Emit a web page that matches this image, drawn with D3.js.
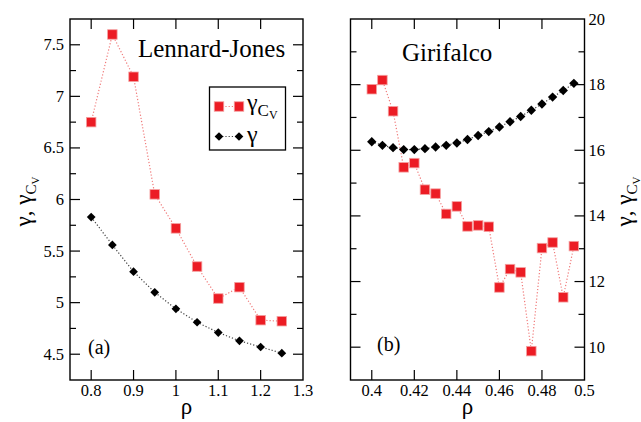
<!DOCTYPE html>
<html><head><meta charset="utf-8">
<script src="https://cdn.jsdelivr.net/npm/d3@7"></script>
<style>
body{margin:0;background:#fff;}
</style></head>
<body><svg id="c" width="641" height="422" font-family="'Liberation Serif', 'Times New Roman', Times, 'DejaVu Serif', serif"></svg>
<script>
// ---- data ----
const ljRho = [0.80,0.85,0.90,0.95,1.00,1.05,1.10,1.15,1.20,1.25];
const ljGammaCv = [6.75,7.60,7.19,6.05,5.72,5.35,5.04,5.15,4.83,4.82];
const ljGamma = [5.83,5.56,5.30,5.10,4.94,4.81,4.71,4.63,4.57,4.51];

const gfRho = [0.400,0.405,0.410,0.415,0.420,0.425,0.430,0.435,0.440,0.445,0.450,0.455,0.460,0.465,0.470,0.475,0.480,0.485,0.490,0.495];
const gfGammaCv = [17.86,18.14,17.19,15.48,15.61,14.80,14.68,14.06,14.29,13.68,13.71,13.67,11.82,12.38,12.28,9.88,13.02,13.19,11.52,13.08];
const gfGamma = [16.26,16.15,16.08,16.02,16.02,16.05,16.10,16.15,16.22,16.33,16.45,16.57,16.71,16.87,17.03,17.22,17.41,17.62,17.82,18.04];

const ljXTicks = [0.8,0.9,1.0,1.1,1.2,1.3];
const ljXTickLabels = ["0.8","0.9","1","1.1","1.2","1.3"];
const ljYTicks = [4.5,5,5.5,6,6.5,7,7.5];
const ljYTickLabels = ["4.5","5","5.5","6","6.5","7","7.5"];
const ljYMinor = [4.25,4.75,5.25,5.75,6.25,6.75,7.25,7.75];

const gfXTicks = [0.40,0.42,0.44,0.46,0.48,0.50];
const gfXTickLabels = ["0.4","0.42","0.44","0.46","0.48","0.5"];
const gfYTicks = [10,12,14,16,18,20];
const gfYTickLabels = ["10","12","14","16","18","20"];
const gfYMinor = [9,11,13,15,17,19];

// ---- drawing ----
const FONT = "'Liberation Serif', 'Times New Roman', Times, 'DejaVu Serif', serif";
const svg = d3.select("#c");
const RED = "#ec1c24", RED_LINE = "#f07a7a";
const TOP = 19, BOT = 380;

function txt(sel){ return sel.append("text").attr("font-family",FONT).attr("fill","#000"); }

function panel(opt){
  const x = d3.scaleLinear().domain(opt.xd).range([opt.x0, opt.x1]);
  const y = d3.scaleLinear().domain(opt.yd).range([BOT, TOP]);
  const g = svg.append("g");
  const maj = 10, mnr = 6;
  const xin = opt.xt.filter(v=>x(v)>opt.x0+1 && x(v)<opt.x1-1);
  [[BOT,-1],[TOP,1]].forEach(([yy,dir])=>{
    g.selectAll(null).data(xin).join("line")
      .attr("x1",d=>x(d)).attr("x2",d=>x(d)).attr("y1",yy).attr("y2",yy+dir*maj)
      .attr("stroke","#000").attr("stroke-width",1.2);
  });
  [[opt.x0,1],[opt.x1,-1]].forEach(([xx,dir])=>{
    g.selectAll(null).data(opt.yt.filter(v=>y(v)>TOP+1 && y(v)<BOT-1)).join("line")
      .attr("x1",xx).attr("x2",xx+dir*maj).attr("y1",d=>y(d)).attr("y2",d=>y(d))
      .attr("stroke","#000").attr("stroke-width",1.2);
    g.selectAll(null).data(opt.ym.filter(v=>y(v)>TOP+1 && y(v)<BOT-1)).join("line")
      .attr("x1",xx).attr("x2",xx+dir*mnr).attr("y1",d=>y(d)).attr("y2",d=>y(d))
      .attr("stroke","#000").attr("stroke-width",1.2);
  });
  g.append("rect").attr("x",opt.x0).attr("y",TOP).attr("width",opt.x1-opt.x0).attr("height",BOT-TOP)
    .attr("fill","none").attr("stroke","#000").attr("stroke-width",1.4);
  opt.xt.forEach((d,i)=>{
    txt(g).attr("x",x(d)).attr("y",396).attr("text-anchor","middle").attr("font-size",16.5).text(opt.xtl[i]);
  });
  opt.yt.forEach((d,i)=>{
    txt(g).attr("x",opt.labRight ? opt.x1+4 : opt.x0-6).attr("y",y(d)+5.5)
      .attr("text-anchor",opt.labRight?"start":"end").attr("font-size",16.5).text(opt.ytl[i]);
  });
  txt(g).attr("x",(opt.x0+opt.x1)/2).attr("y",414).attr("text-anchor","middle")
    .attr("font-size",23).text("ρ");
  const yt = txt(g).attr("transform",`translate(${opt.ytx},${(TOP+BOT)/2+2}) rotate(-90)`)
    .attr("text-anchor","middle").attr("font-size",23);
  yt.append("tspan").text("γ, γ");
  yt.append("tspan").attr("font-size",15).attr("dy",5).text("C");
  yt.append("tspan").attr("font-size",11).attr("dy",3).text("V");

  const line = d3.line().x(d=>x(d[0])).y(d=>y(d[1]));
  const redPts = opt.rx.map((v,i)=>[v,opt.ry[i]]);
  const blkPts = opt.rx.map((v,i)=>[v,opt.by[i]]);
  g.append("path").attr("d",line(redPts)).attr("fill","none").attr("stroke",RED_LINE)
    .attr("stroke-width",1.2).attr("stroke-dasharray","1.2,2");
  g.append("path").attr("d",line(blkPts)).attr("fill","none").attr("stroke","#444")
    .attr("stroke-width",1.2).attr("stroke-dasharray","1.2,2");
  const s = 9.5;
  g.selectAll(null).data(redPts).join("rect")
    .attr("x",d=>x(d[0])-s/2).attr("y",d=>y(d[1])-s/2).attr("width",s).attr("height",s)
    .attr("fill",RED).attr("stroke","#f4a0a0").attr("stroke-width",0.8);
  const dsym = d3.symbol().type(d3.symbolSquare).size(opt.dsz);
  g.selectAll(null).data(blkPts).join("path")
    .attr("d",dsym).attr("transform",d=>`translate(${x(d[0])},${y(d[1])}) rotate(45)`)
    .attr("fill","#000");
  return {g,x,y};
}

panel({x0:70,x1:303,xd:[0.75,1.3],yd:[4.25,7.75],xt:ljXTicks,xtl:ljXTickLabels,
  yt:ljYTicks,ytl:ljYTickLabels,ym:ljYMinor,labRight:false,ytx:31,
  rx:ljRho,ry:ljGammaCv,by:ljGamma,dsz:38});
panel({x0:350.5,x1:584.5,xd:[0.39,0.5],yd:[9,20],xt:gfXTicks,xtl:gfXTickLabels,
  yt:gfYTicks,ytl:gfYTickLabels,ym:gfYMinor,labRight:true,ytx:632,
  rx:gfRho,ry:gfGammaCv,by:gfGamma,dsz:44});

// annotations
txt(svg).attr("x",138).attr("y",57).attr("font-size",25).text("Lennard-Jones");
txt(svg).attr("x",402).attr("y",61).attr("font-size",25).text("Girifalco");
txt(svg).attr("x",88).attr("y",354).attr("font-size",20).text("(a)");
txt(svg).attr("x",377).attr("y",351).attr("font-size",20).text("(b)");

// legend
const lg = svg.append("g");
lg.append("rect").attr("x",209.5).attr("y",87).attr("width",76).attr("height",63)
  .attr("fill","#fff").attr("stroke","#000").attr("stroke-width",1.3);
const legItems = [{y:106.5,kind:"sq"},{y:136.5,kind:"dm"}];
legItems.forEach(it=>{
  lg.append("line").attr("x1",219).attr("x2",239).attr("y1",it.y).attr("y2",it.y)
    .attr("stroke",it.kind==="sq"?RED_LINE:"#444").attr("stroke-width",1.2).attr("stroke-dasharray","1.2,2");
  [219,239].forEach(cx=>{
    if(it.kind==="sq"){
      lg.append("rect").attr("x",cx-4.75).attr("y",it.y-4.75).attr("width",9.5).attr("height",9.5)
        .attr("fill",RED).attr("stroke","#f4a0a0").attr("stroke-width",0.8);
    } else {
      lg.append("path").attr("d",d3.symbol().type(d3.symbolSquare).size(38)())
        .attr("transform",`translate(${cx},${it.y}) rotate(45)`).attr("fill","#000");
    }
  });
});
const t1 = txt(lg).attr("x",247).attr("y",110).attr("font-size",24);
t1.append("tspan").text("γ");
t1.append("tspan").attr("font-size",17).attr("dy",6).text("C");
t1.append("tspan").attr("font-size",12).attr("dy",3).text("V");
txt(lg).attr("x",247).attr("y",142).attr("font-size",24).text("γ");
</script></body></html>
